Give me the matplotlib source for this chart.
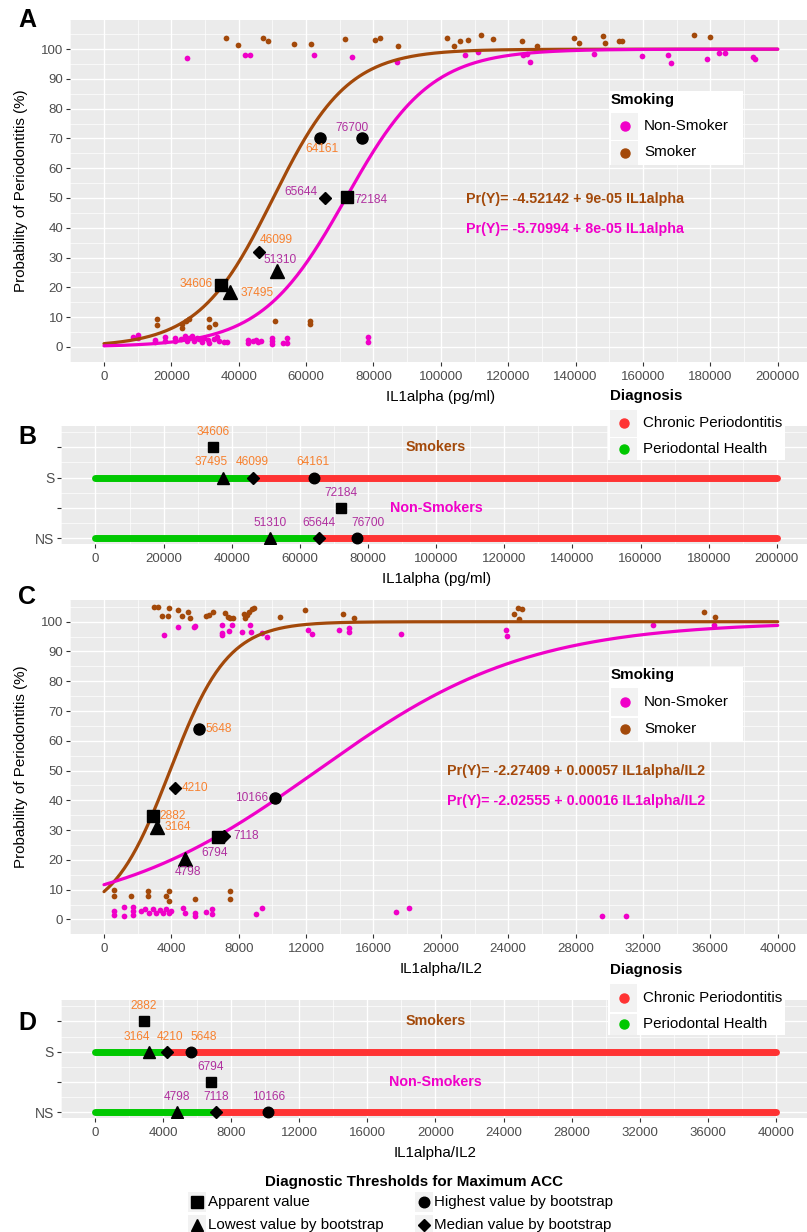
import numpy as np
import matplotlib
matplotlib.use("Agg")
import matplotlib.pyplot as plt
from matplotlib.patches import Rectangle
from matplotlib.lines import Line2D

plt.rcParams['font.family'] = ['Liberation Sans', 'DejaVu Sans']

# ---------------- data ----------------
# Panel A: IL1alpha scatter (jittered observations)
a_smk_x = [36130, 39690, 47200, 48600, 56400, 61460, 71460, 80370, 81850, 87380, 101750, 104010,
           105700, 107980, 111940, 115600, 124020, 128670, 139660, 141030, 148250, 148660, 153000,
           153800, 175090, 179930,
           15640, 15640, 23060, 23060, 24350, 25140, 31180, 31180, 32960, 50770, 61160, 61160]
a_smk_y = [103.7, 101.3, 103.8, 102.7, 101.8, 101.9, 103.4, 103.2, 103.6, 101.1, 103.6, 101.2,
           102.8, 103.1, 104.7, 103.5, 102.8, 101.2, 103.7, 102.1, 104.5, 102.0, 102.6,
           102.9, 104.9, 104.1,
           9.2, 7.2, 7.8, 6.4, 8.6, 9.2, 9.5, 6.7, 7.8, 8.8, 8.8, 7.5]
a_non_x = [24640, 41770, 43350, 62350, 73540, 86900, 107190, 111140, 124320, 125500, 126480,
           145490, 159830, 167350, 168350, 179040, 182700, 184380, 192790, 193300,
           8700, 10200, 10000, 15240, 15240, 17990, 18000, 21170, 21170, 23000, 24000, 24500,
           25300, 26000, 26800, 27500, 28300, 29000, 29800, 31000, 31300, 32700, 33500, 34200,
           35500, 36500, 42850, 42850, 44100, 45000, 45600, 46600, 49770, 49770, 49770, 53240,
           54420, 54420, 78480, 78480]
a_non_y = [97.0, 98.2, 98.1, 98.1, 97.3, 95.6, 98.1, 98.9, 98.1, 98.3, 95.7,
           98.4, 97.8, 98.2, 95.3, 96.7, 98.8, 98.8, 97.5, 96.8,
           3.4, 4.1, 3.0, 2.2, 1.5, 3.3, 2.0, 3.0, 1.9, 2.5, 3.5, 1.8,
           2.8, 3.6, 2.0, 3.0, 2.5, 1.6, 3.1, 2.4, 1.3, 2.7, 3.4, 1.8,
           1.5, 1.5, 2.2, 1.2, 1.9, 2.4, 1.7, 2.0, 3.0, 1.9, 1.0, 1.3,
           3.0, 1.3, 3.3, 1.6]

# Panel C: IL1alpha/IL2 scatter
c_smk_x = [2990, 3220, 3420, 3780, 3880, 4410, 4630, 4970, 5110, 6060, 6250, 6450, 7180, 7340,
           7500, 7640, 8290, 8370, 8490, 8630, 8770, 8890, 10450, 11910, 14190, 14820, 24360,
           24600, 24800, 24660, 35620, 36300,
           575, 575, 1600, 2630, 2630, 3680, 3840, 3880, 5420, 7480, 7480]
c_smk_y = [104.8, 104.8, 102.0, 101.8, 104.6, 104.1, 101.9, 103.2, 101.2, 102.0, 102.3, 103.2,
           102.9, 101.6, 101.2, 101.4, 102.7, 101.2, 102.1, 103.2, 104.3, 104.6, 101.6, 104.1,
           102.7, 101.3, 102.6, 104.6, 104.3, 101.0, 103.4, 101.6,
           9.8, 7.9, 7.9, 9.6, 7.9, 7.9, 9.6, 6.2, 7.0, 9.6, 7.0]
c_non_x = [3540, 4410, 5330, 5420, 6990, 6990, 6990, 7440, 7580, 8170, 8670, 8730, 9400, 9700,
           12090, 12330, 13970, 14560, 14560, 17630, 23870, 23910, 32610, 36220,
           575, 575, 1210, 1210, 1700, 1700, 1700, 2200, 2450, 2650, 2900, 3100, 3300, 3500,
           3700, 3850, 4000, 4670, 4810, 5420, 5420, 6060, 6410, 6410, 9020, 9380, 17340,
           18130, 29590, 30990]
c_non_y = [95.6, 98.3, 98.1, 98.7, 99.0, 96.2, 95.4, 97.0, 98.8, 96.4, 98.8, 96.4, 96.2, 95.0,
           97.2, 96.0, 97.2, 97.9, 96.6, 96.0, 97.1, 95.3, 99.0, 99.0,
           2.9, 1.6, 4.2, 1.2, 4.2, 2.9, 1.6, 2.9, 3.4, 2.2, 3.4, 2.0, 3.0, 2.3,
           3.4, 2.0, 2.7, 3.9, 2.2, 2.2, 1.2, 2.4, 3.5, 1.9, 1.9, 3.7, 2.4,
           3.7, 1.3, 1.3]

# logistic model coefficients (intercept, slope)
a_coef_smk = (-4.52142, 9.0e-05)
a_coef_non = (-5.70994, 7.95e-05)
c_coef_smk = (-2.27409, 0.00058)
c_coef_non = (-2.02555, 0.00016)
a_eq_smk = "Pr(Y)= -4.52142 + 9e-05 IL1alpha"
a_eq_non = "Pr(Y)= -5.70994 + 8e-05 IL1alpha"
c_eq_smk = "Pr(Y)= -2.27409 + 0.00057 IL1alpha/IL2"
c_eq_non = "Pr(Y)= -2.02555 + 0.00016 IL1alpha/IL2"

# thresholds: apparent, lowest, median, highest
thr_names = ["Apparent value", "Lowest value by bootstrap", "Median value by bootstrap",
             "Highest value by bootstrap"]
a_thr_smk = [34606, 37495, 46099, 64161]
a_thr_non = [72184, 51310, 65644, 76700]
c_thr_smk = [2882, 3164, 4210, 5648]
c_thr_non = [6794, 4798, 7118, 10166]
# display heights of threshold markers in panels A / C (%)
a_thr_smk_y = [20.9, 18.5, 32.0, 70.1]
a_thr_non_y = [50.5, 25.4, 49.9, 70.1]
c_thr_smk_y = [34.9, 31.2, 44.3, 63.9]
c_thr_non_y = [27.6, 20.3, 28.0, 40.9]

a_xticks = list(range(0, 200001, 20000))
c_xticks = list(range(0, 40001, 4000))
y_ticks = list(range(0, 101, 10))
bd_ylabels = ["NS", "", "S", ""]

# ---------------- style ----------------
W, H = 807, 1232
PINK = '#F000C8'
BROWN = '#A3490A'
ORANGE = '#F7812F'
PURPLE = '#B0309F'
GREEN = '#00C800'
RED = '#FF3333'
BG = '#EBEBEB'
KEYBG = '#F2F2F2'
TICKC = '#4D4D4D'
MARK = {0: ('s', 8.5), 1: ('^', 9.5), 2: ('D', 6.5), 3: ('o', 8.0)}

fig = plt.figure(figsize=(W / 100, H / 100), dpi=100)


def fx(px):
    return px / W


def fy(py):
    return 1 - py / H


def add_ax(l, t, r, b):
    ax = fig.add_axes([fx(l), fy(b), (r - l) / W, (b - t) / H])
    ax.set_facecolor(BG)
    for s in ax.spines.values():
        s.set_visible(False)
    ax.grid(True, which='major', color='white', lw=1.0)
    ax.grid(True, which='minor', color='white', lw=0.5)
    ax.set_axisbelow(True)
    ax.tick_params(which='major', length=3, width=0.8, color='#333333', labelcolor=TICKC,
                   labelsize=9.5, pad=2)
    ax.tick_params(axis='x', which='major', pad=3.5)
    ax.tick_params(which='minor', length=0)
    return ax


def key_legend(title, x0, ytitle, rows, boxright, boxtop, boxbottom):
    fig.add_artist(Rectangle((fx(x0 - 2), fy(boxbottom)), (boxright - x0 + 2) / W,
                             (boxbottom - boxtop) / H, transform=fig.transFigure,
                             facecolor='white', edgecolor='none', zorder=5))
    fig.text(fx(x0), fy(ytitle), title, fontsize=10.9, fontweight='bold', ha='left',
             va='center', zorder=6)
    for (ky0, ky1, color, label) in rows:
        fig.add_artist(Rectangle((fx(x0), fy(ky1)), 27 / W, (ky1 - ky0 - 1) / H,
                                 transform=fig.transFigure, facecolor=KEYBG,
                                 edgecolor='none', zorder=6))
        yc = (ky0 + ky1) / 2
        fig.add_artist(Line2D([fx(x0 + 14)], [fy(yc)], marker='o', ms=6.5, color=color,
                              transform=fig.transFigure, zorder=7))
        fig.text(fx(x0 + 33), fy(yc), label, fontsize=10.9, ha='left', va='center', zorder=7)


def logistic_panel(ax, xs_max, coef_s, coef_n, smk, non, thr_s, thr_n, thr_sy, thr_ny):
    ax.scatter(smk[0], smk[1], s=17, color=BROWN, zorder=3, linewidths=0)
    ax.scatter(non[0], non[1], s=17, color=PINK, zorder=3, linewidths=0)
    xx = np.linspace(0, xs_max, 500)
    for (b0, b1), col in ((coef_s, BROWN), (coef_n, PINK)):
        yy = 100 / (1 + np.exp(-(b0 + b1 * xx)))
        ax.plot(xx, yy, color=col, lw=2.3, zorder=4, solid_capstyle='round')
    for i in range(4):
        m, ms = MARK[i]
        ax.plot([thr_s[i]], [thr_sy[i]], marker=m, ms=ms, color='black', ls='none', zorder=5)
        ax.plot([thr_n[i]], [thr_ny[i]], marker=m, ms=ms, color='black', ls='none', zorder=5)


def set_ylab(ax, left, width):
    ax.set_ylabel("Probability of Periodontitis (%)", fontsize=10.9)
    ax.yaxis.label.set_va('center')
    ax.yaxis.set_label_coords((21 - left) / width, 0.5)


# ---------------- Panel A ----------------
axA = add_ax(70.3, 20, 811.4, 361.7)
logistic_panel(axA, 200000, a_coef_smk, a_coef_non, (a_smk_x, a_smk_y), (a_non_x, a_non_y),
               a_thr_smk, a_thr_non, a_thr_smk_y, a_thr_non_y)
axA.set_xlim(-10000, 210000)
axA.set_ylim(-4.83, 109.8)
axA.set_xticks(a_xticks)
axA.set_xticklabels([str(v) for v in a_xticks])
axA.set_xticks(list(range(-10000, 210001, 20000)), minor=True)
axA.set_yticks(y_ticks)
axA.set_yticks([v + 5 for v in range(-10, 110, 10)], minor=True)
axA.set_xlabel("IL1alpha (pg/ml)", fontsize=10.9, labelpad=5)
set_ylab(axA, 70.3, 741.1)
labA = [("34606", 32400, 21.0, 'right', ORANGE), ("37495", 40580, 18.0, 'left', ORANGE),
        ("46099", 46130, 35.8, 'left', ORANGE), ("64161", 64830, 66.4, 'center', ORANGE),
        ("76700", 73540, 73.5, 'center', PURPLE), ("65644", 63440, 51.9, 'right', PURPLE),
        ("72184", 74230, 49.4, 'left', PURPLE), ("51310", 52160, 29.0, 'center', PURPLE)]
for s, x, y, ha, c in labA:
    axA.text(x, y, s, color=c, fontsize=8.6, ha=ha, va='center', zorder=6)
axA.text(107480, 49.8, a_eq_smk, color=BROWN, fontsize=10.3, fontweight='bold', ha='left',
         va='center')
axA.text(107480, 39.7, a_eq_non, color=PINK, fontsize=10.3, fontweight='bold', ha='left',
         va='center')
fig.text(fx(18), fy(20), "A", fontsize=18, fontweight='bold', ha='left', va='center')
key_legend("Smoking", 611, 100, [(111.7, 140, PINK, "Non-Smoker"), (140.5, 164.5, BROWN, "Smoker")],
           743, 91, 164.5)


# ---------------- Panel B / D helper ----------------
def line_panel(ax, xmax, thr_s, thr_n, lab_s, lab_n):
    for row, thr in ((3, thr_s), (1, thr_n)):
        ax.plot([0, thr[2]], [row, row], color=GREEN, lw=5, solid_capstyle='round', zorder=2)
        ax.plot([thr[2], xmax], [row, row], color=RED, lw=5, solid_capstyle='round', zorder=2)
        for i in (1, 2, 3):
            m, ms = MARK[i]
            ax.plot([thr[i]], [row], marker=m, ms=ms * 0.95, color='black', ls='none', zorder=4)
        ax.plot([thr[0]], [row + 1], marker='s', ms=7.5, color='black', ls='none', zorder=4)
    for (s, x, y), c in [(l, ORANGE) for l in lab_s] + [(l, PURPLE) for l in lab_n]:
        ax.text(x, y, s, color=c, fontsize=8.6, ha='center', va='center', zorder=5)
    ax.text(xmax / 2, 4, "Smokers", color=BROWN, fontsize=10.3, fontweight='bold',
            ha='center', va='center')
    ax.text(xmax / 2, 2, "Non-Smokers", color=PINK, fontsize=10.3, fontweight='bold',
            ha='center', va='center')
    ax.set_ylim(0.81, 4.71)
    ax.set_yticks([1, 2, 3, 4])
    ax.set_yticklabels(bd_ylabels, fontsize=10)
    ax.set_yticks([1.5, 2.5, 3.5, 4.5], minor=True)


axB = add_ax(61.4, 425.7, 811, 544)
labB_s = [("34606", 34650, 4.5), ("37495", 33900, 3.5), ("46099", 46000, 3.5), ("64161", 63940, 3.5)]
labB_n = [("72184", 71950, 2.5), ("51310", 51270, 1.5), ("65644", 65600, 1.5), ("76700", 79960, 1.5)]
line_panel(axB, 200000, a_thr_smk, a_thr_non, labB_s, labB_n)
axB.set_xlim(-10000, 210000)
axB.set_xticks(a_xticks)
axB.set_xticklabels([str(v) for v in a_xticks])
axB.set_xticks(list(range(-10000, 210001, 20000)), minor=True)
axB.set_xlabel("IL1alpha (pg/ml)", fontsize=10.9, labelpad=5)
fig.text(fx(18), fy(437), "B", fontsize=18, fontweight='bold', ha='left', va='center')
key_legend("Diagnosis", 610, 396, [(409, 436.5, RED, "Chronic Periodontitis"),
                                   (437, 460, GREEN, "Periodontal Health")], 785, 385, 460)

# ---------------- Panel C ----------------
axC = add_ax(70.3, 600, 811.4, 934.3)
logistic_panel(axC, 40000, c_coef_smk, c_coef_non, (c_smk_x, c_smk_y), (c_non_x, c_non_y),
               c_thr_smk, c_thr_non, c_thr_smk_y, c_thr_non_y)
axC.set_xlim(-2000, 42000)
axC.set_ylim(-4.1, 107.3)
axC.set_xticks(c_xticks)
axC.set_xticklabels([str(v) for v in c_xticks])
axC.set_xticks(list(range(-2000, 42001, 4000)), minor=True)
axC.set_yticks(y_ticks)
axC.set_yticks([v + 5 for v in range(-10, 110, 10)], minor=True)
axC.set_xlabel("IL1alpha/IL2", fontsize=10.9, labelpad=5)
set_ylab(axC, 70.3, 741.1)
labC = [("5648", 6040, 63.9, 'left', ORANGE), ("4210", 4610, 44.3, 'left', ORANGE),
        ("2882", 3290, 34.9, 'left', ORANGE), ("3164", 3580, 30.9, 'left', ORANGE),
        ("10166", 9720, 40.9, 'right', PURPLE), ("7118", 7680, 27.9, 'left', PURPLE),
        ("6794", 5800, 22.3, 'left', PURPLE), ("4798", 4200, 15.9, 'left', PURPLE)]
for s, x, y, ha, c in labC:
    axC.text(x, y, s, color=c, fontsize=8.6, ha=ha, va='center', zorder=6)
axC.text(20350, 49.8, c_eq_smk, color=BROWN, fontsize=10.3, fontweight='bold', ha='left',
         va='center')
axC.text(20350, 39.9, c_eq_non, color=PINK, fontsize=10.3, fontweight='bold', ha='left',
         va='center')
fig.text(fx(18), fy(597), "C", fontsize=18, fontweight='bold', ha='left', va='center')
key_legend("Smoking", 611, 675, [(687, 716, PINK, "Non-Smoker"), (716.5, 741, BROWN, "Smoker")],
           743, 667, 741)

# ---------------- Panel D ----------------
axD = add_ax(61, 1000, 810, 1118)
labD_s = [("2882", 2880, 4.5), ("3164", 2460, 3.5), ("4210", 4400, 3.5), ("5648", 6390, 3.5)]
labD_n = [("6794", 6810, 2.5), ("4798", 4790, 1.5), ("7118", 7120, 1.5), ("10166", 10200, 1.5)]
line_panel(axD, 40000, c_thr_smk, c_thr_non, labD_s, labD_n)
axD.set_xlim(-2000, 42000)
axD.set_xticks(c_xticks)
axD.set_xticklabels([str(v) for v in c_xticks])
axD.set_xticks(list(range(-2000, 42001, 4000)), minor=True)
axD.set_xlabel("IL1alpha/IL2", fontsize=10.9, labelpad=5)
fig.text(fx(18), fy(1023), "D", fontsize=18, fontweight='bold', ha='left', va='center')
key_legend("Diagnosis", 610, 970, [(983, 1012, RED, "Chronic Periodontitis"),
                                   (1012.5, 1035, GREEN, "Periodontal Health")], 785, 958, 1035)

# ---------------- bottom shape legend ----------------
fig.text(fx(414), fy(1182), "Diagnostic Thresholds for Maximum ACC", fontsize=10.9,
         fontweight='bold', ha='center', va='center')
shape_keys = [(197, 1202, 0, 208), (424, 1202, 3, 434), (197, 1225, 1, 208), (424, 1225, 2, 434)]
for x, y, idx, tx in shape_keys:
    fig.add_artist(Rectangle((fx(x - 9), fy(y + 10)), 18 / W, 20 / H, transform=fig.transFigure,
                             facecolor=KEYBG, edgecolor='none', zorder=5))
    m, ms = MARK[idx]
    fig.add_artist(Line2D([fx(x)], [fy(y)], marker=m, ms=ms * 0.95, color='black',
                          transform=fig.transFigure, zorder=6))
    fig.text(fx(tx), fy(y), thr_names[idx], fontsize=10.9, ha='left', va='center', zorder=6)

fig.savefig("out.png", dpi=100)
